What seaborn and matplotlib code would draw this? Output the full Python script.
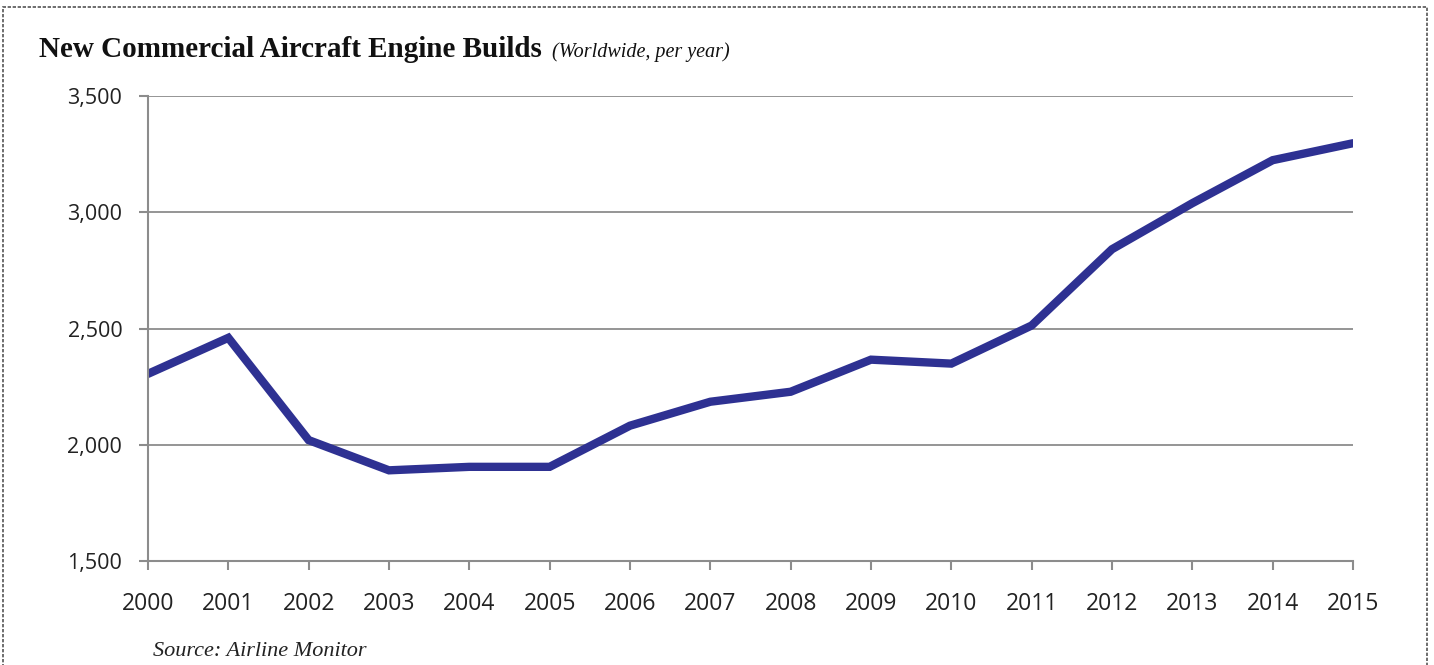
import pandas as pd
import matplotlib
matplotlib.use("Agg")
import matplotlib.pyplot as plt
import seaborn as sns
from matplotlib.patches import Rectangle
from matplotlib.ticker import FuncFormatter

# Data
years = list(range(2000, 2016))
engine_builds = [2305, 2460, 2020, 1890, 1905, 1905, 2082, 2185,
                 2228, 2366, 2349, 2513, 2841, 3039, 3224, 3297]
y_ticks = [1500, 2000, 2500, 3000, 3500]

title_main = "New Commercial Aircraft Engine Builds"
title_sub = "(Worldwide, per year)"
source_text = "Source: Airline Monitor"


def plot_chart(output_path: str):
    sns.set_theme(style="white")
    plt.rcParams["font.family"] = ["Open Sans", "DejaVu Sans"]

    df = pd.DataFrame({"Year": years, "Builds": engine_builds})

    fig = plt.figure(figsize=(14.34, 6.65), dpi=100)
    ax = fig.add_axes([0.1032, 0.1564, 0.8403, 0.6992])

    sns.lineplot(data=df, x="Year", y="Builds", ax=ax,
                 color="#2E3192", linewidth=6.0, solid_joinstyle="miter")

    ax.set_xlim(years[0], years[-1])
    ax.set_ylim(y_ticks[0], y_ticks[-1])
    ax.set_xticks(years)
    ax.set_yticks(y_ticks)
    ax.yaxis.set_major_formatter(FuncFormatter(lambda v, p: f"{int(v):,}"))
    ax.set_xlabel("")
    ax.set_ylabel("")

    # Excel-like grid and axes
    ax.grid(axis="y", color="#8c8c8c", linewidth=1.3)
    ax.set_axisbelow(True)
    for side in ["top", "right"]:
        ax.spines[side].set_visible(False)
    for side in ["left", "bottom"]:
        ax.spines[side].set_color("#8c8c8c")
        ax.spines[side].set_linewidth(1.5)
    ax.tick_params(axis="both", which="both", direction="out", length=6.5,
                   width=1.5, color="#8c8c8c", labelcolor="#222222",
                   bottom=True, left=True)
    ax.tick_params(axis="x", pad=16, labelsize=16.5)
    ax.tick_params(axis="y", pad=12, labelsize=15.5)

    # Title with italic subtitle
    t = fig.text(0.0275, 0.914, title_main, family="Liberation Serif",
                 fontweight="bold", fontsize=21, color="#111111",
                 ha="left", va="baseline")
    fig.canvas.draw()
    bb = t.get_window_extent()
    fig.text((bb.x1 + 10) / fig.bbox.width, 0.914, title_sub,
             family="Liberation Serif", style="italic", fontsize=14.5,
             color="#111111", ha="left", va="baseline")

    fig.text(0.107, 0.014, source_text, family="Liberation Serif",
             style="italic", fontsize=16, color="#222222",
             ha="left", va="baseline")

    # Dashed frame around the chart area
    fig.patches.append(Rectangle((0.002, -0.01), 0.993, 1.0, fill=False,
                                 linestyle=(0, (2, 1)), linewidth=1.2,
                                 edgecolor="#555555",
                                 transform=fig.transFigure, figure=fig))

    fig.savefig(output_path, dpi=100)
    plt.close(fig)


if __name__ == "__main__":
    plot_chart("out.png")
